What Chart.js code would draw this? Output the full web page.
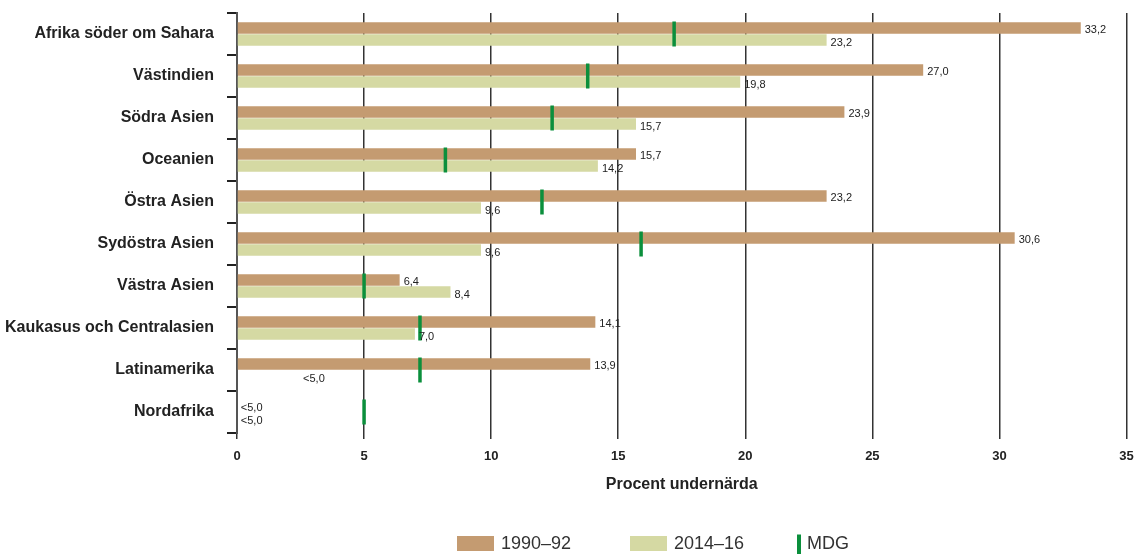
<!DOCTYPE html>
<html lang="sv">
<head>
<meta charset="utf-8">
<title>Procent undernärda</title>
<script src="https://cdn.jsdelivr.net/npm/chart.js@4/dist/chart.umd.min.js"></script>
<style>
  html, body { margin: 0; padding: 0; background: #fff; }
  #wrap { width: 1140px; height: 554px; position: relative; }
</style>
</head>
<body>
<div id="wrap"><canvas id="chartHunger"></canvas></div>
<script>
// regioner, uppifrån och ned
const regions = [
  "Afrika söder om Sahara",
  "Västindien",
  "Södra Asien",
  "Oceanien",
  "Östra Asien",
  "Sydöstra Asien",
  "Västra Asien",
  "Kaukasus och Centralasien",
  "Latinamerika",
  "Nordafrika"
];

// andel undernärda (%), null = under 5 % (ingen stapel)
const values1990 = [33.2, 27.0, 23.9, 15.7, 23.2, 30.6, 6.4, 14.1, 13.9, null];
const values2014 = [23.2, 19.8, 15.7, 14.2, 9.6, 9.6, 8.4, 7.0, null, null];
const mdgTarget  = [17.2, 13.8, 12.4, 8.2, 12.0, 15.9, 5.0, 7.2, 7.2, 5.0];

const labels1990 = ["33,2", "27,0", "23,9", "15,7", "23,2", "30,6", "6,4", "14,1", "13,9", "<5,0"];
const labels2014 = ["23,2", "19,8", "15,7", "14,2", "9,6", "9,6", "8,4", "7,0", "<5,0", "<5,0"];

const xTicks = [0, 5, 10, 15, 20, 25, 30, 35];

const COL = {
  brown: "#c49b71",
  sage: "#d5d9a3",
  green: "#0b8f3c",
  ink: "#222",
  grid: "#333"
};
const FONT = "'Liberation Sans', Arial, sans-serif";

// var "<5,0" skrivs när stapeln saknas (i x-enheter)
const NOTE_AT = { 8: 2.6, 9: 0.15 };

const valueLabels = {
  id: "valueLabels",
  afterDatasetsDraw(chart) {
    const ctx = chart.ctx;
    const xs = chart.scales.x;
    const sets = [labels1990, labels2014];
    ctx.save();
    ctx.font = "11px " + FONT;
    ctx.fillStyle = COL.ink;
    ctx.textBaseline = "middle";
    ctx.textAlign = "left";
    sets.forEach((txt, d) => {
      const meta = chart.getDatasetMeta(d);
      const vals = chart.data.datasets[d].data;
      meta.data.forEach((el, i) => {
        let x;
        if (vals[i] == null) x = xs.getPixelForValue(NOTE_AT[i] ?? 0);
        else x = el.x + 4;
        ctx.fillText(txt[i], x, el.y + 2.5);
      });
    });
    ctx.restore();
  }
};

// egen förklaring längst ned
const bottomLegend = {
  id: "bottomLegend",
  afterDraw(chart) {
    const ctx = chart.ctx;
    const ds = chart.data.datasets;
    const y = 543.5;
    const startX = [457, 630, 797];
    ctx.save();
    ctx.font = "18px " + FONT;
    ctx.fillStyle = "#333";
    ctx.textBaseline = "middle";
    for (let k = 0; k < 2; k++) {
      ctx.fillStyle = ds[k].backgroundColor;
      ctx.fillRect(startX[k], y - 7.5, 37, 15);
      ctx.fillStyle = "#333";
      ctx.fillText(ds[k].label, startX[k] + 44, y + 1);
    }
    ctx.strokeStyle = ds[2].borderColor;
    ctx.lineWidth = 4;
    ctx.beginPath();
    ctx.moveTo(startX[2] + 2, y - 9);
    ctx.lineTo(startX[2] + 2, 556);
    ctx.stroke();
    ctx.fillStyle = "#333";
    ctx.fillText(ds[2].label, startX[2] + 10, y + 1);
    ctx.restore();
  }
};

new Chart(document.getElementById("chartHunger"), {
  type: "bar",
  data: {
    labels: regions,
    datasets: [
      {
        label: "1990–92",
        data: values1990,
        backgroundColor: COL.brown,
        categoryPercentage: 0.58,
        barPercentage: 0.94,
        order: 1
      },
      {
        label: "2014–16",
        data: values2014,
        backgroundColor: COL.sage,
        categoryPercentage: 0.58,
        barPercentage: 0.94,
        order: 1
      },
      {
        type: "scatter",
        label: "MDG",
        data: mdgTarget.map((v, i) => ({ x: v, y: regions[i] })),
        pointStyle: "line",
        rotation: 90,
        radius: 12.5,
        hoverRadius: 12.5,
        borderWidth: 3.5,
        hoverBorderWidth: 3.5,
        borderColor: COL.green,
        backgroundColor: COL.green,
        order: 0
      }
    ]
  },
  options: {
    indexAxis: "y",
    responsive: true,
    maintainAspectRatio: false,
    animation: false,
    layout: {
      autoPadding: false,
      padding: { top: 13, right: 13.5, bottom: 56, left: 0 }
    },
    plugins: {
      legend: { display: false },
      tooltip: { enabled: false }
    },
    scales: {
      y: {
        type: "category",
        offset: true,
        grid: {
          offset: true,
          drawOnChartArea: false,
          drawTicks: true,
          tickLength: 10,
          color: COL.ink,
          lineWidth: 2
        },
        border: { display: true, color: "#555", width: 2 },
        ticks: {
          padding: 13,
          color: COL.ink,
          font: { family: FONT, size: 16, weight: "bold" }
        },
        afterFit(s) {
          s.width = 237;
          // etiketterna sitter mitt i banden, ingen extra luft behövs
          s.paddingTop = 0;
          s.paddingBottom = 0;
        }
      },
      x: {
        type: "linear",
        min: 0,
        max: 35,
        afterBuildTicks(s) { s.ticks = xTicks.map(v => ({ value: v })); },
        grid: {
          color: COL.grid,
          lineWidth: 1.5,
          drawTicks: true,
          tickLength: 6
        },
        border: { display: false },
        ticks: {
          padding: 10,
          color: COL.ink,
          font: { family: FONT, size: 13, weight: "bold" }
        },
        title: {
          display: true,
          text: "Procent undernärda",
          color: COL.ink,
          font: { family: FONT, size: 16, weight: "bold" },
          padding: { top: 10, bottom: 4 }
        },
        afterFit(s) {
          s.height = 65;
          s.paddingLeft = 0;
          s.paddingRight = 0;
        }
      }
    }
  },
  plugins: [valueLabels, bottomLegend]
});
</script>
</body>
</html>
